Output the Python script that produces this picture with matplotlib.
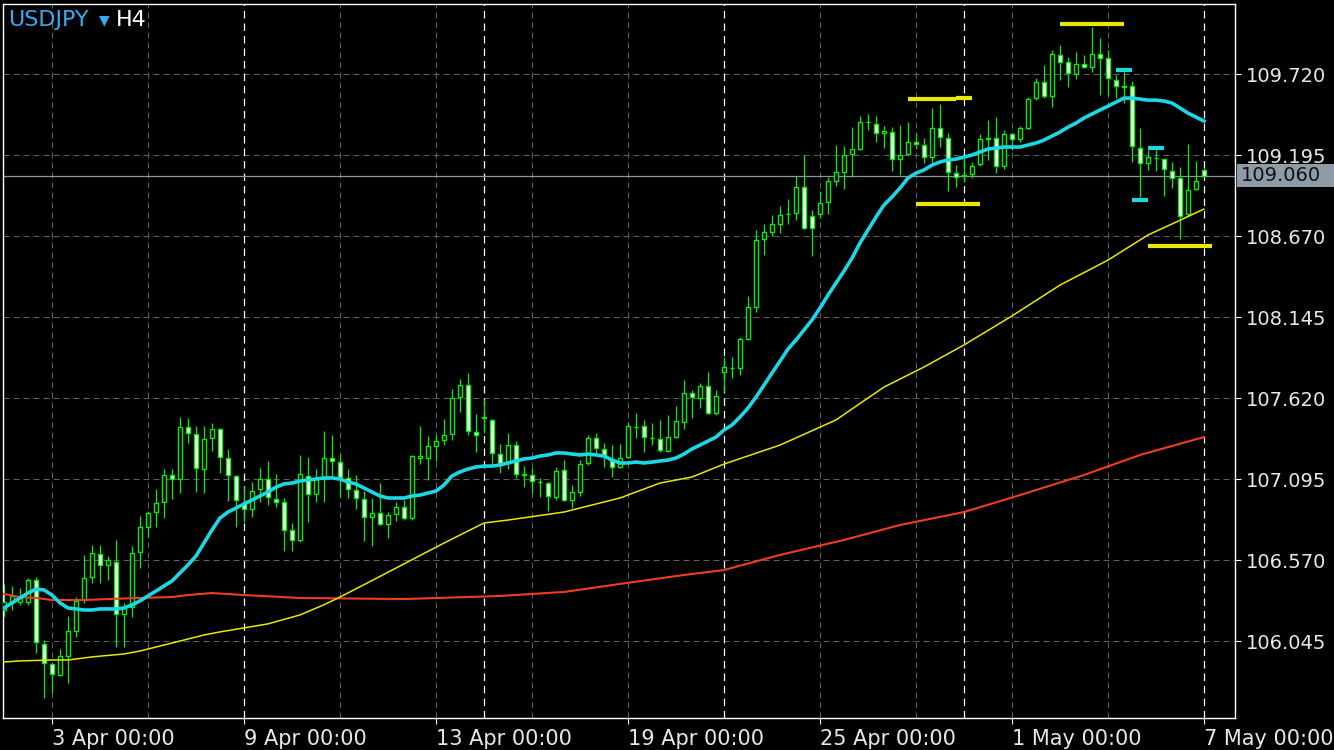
import matplotlib.pyplot as plt
from matplotlib.patches import Rectangle
from matplotlib.transforms import blended_transform_factory

# USDJPY H4, bar 0 = 2 Apr 00:00
opens = [106.246, 106.298, 106.298, 106.298, 106.440, 106.026, 105.896, 105.825, 105.948, 106.110,
         106.311, 106.460, 106.609, 106.538, 106.557, 106.220, 106.265, 106.622, 106.784, 106.881,
         106.946, 107.121, 107.095, 107.432, 107.387, 107.160, 107.361, 107.419, 107.231, 107.115,
         106.939, 106.900, 107.030, 107.095, 106.965, 106.946, 106.764, 106.700, 107.115, 106.998,
         107.102, 107.231, 107.205, 107.102, 107.024, 106.965, 106.849, 106.875, 106.803, 106.868,
         106.914, 106.842, 107.231, 107.231, 107.309, 107.348, 107.387, 107.626, 107.704, 107.400,
         107.490, 107.477, 107.257, 107.199, 107.315, 107.127, 107.121, 107.076, 107.069, 106.978,
         107.153, 106.959, 107.011, 107.199, 107.361, 107.290, 107.218, 107.173, 107.238, 107.432,
         107.439, 107.361, 107.354, 107.277, 107.367, 107.464, 107.652, 107.620, 107.698, 107.523,
         107.788, 107.814, 107.814, 108.002, 108.210, 108.651, 108.696, 108.748, 108.813, 108.819,
         108.988, 108.800, 108.813, 108.890, 109.027, 109.085, 109.201, 109.234, 109.409, 109.396,
         109.338, 109.344, 109.169, 109.201, 109.279, 109.260, 109.182, 109.370, 109.305, 109.078,
         109.065, 109.072, 109.137, 109.305, 109.305, 109.124, 109.331, 109.299, 109.370, 109.564,
         109.668, 109.577, 109.843, 109.798, 109.720, 109.785, 109.765, 109.850, 109.824, 109.681,
         109.642, 109.642, 109.240, 109.143, 109.176, 109.169, 109.091, 109.046, 108.813, 108.975,
         109.098]
highs = [106.414, 106.402, 106.389, 106.453, 106.460, 106.051, 105.902, 105.993, 106.207, 106.330,
         106.602, 106.667, 106.667, 106.596, 106.700, 106.291, 106.661, 106.855, 106.888, 107.030,
         107.160, 107.160, 107.497, 107.490, 107.439, 107.439, 107.458, 107.426, 107.290, 107.121,
         107.050, 107.076, 107.166, 107.212, 107.127, 106.972, 106.810, 107.251, 107.238, 107.160,
         107.406, 107.380, 107.257, 107.160, 107.121, 107.017, 106.972, 107.069, 106.881, 106.946,
         106.959, 107.251, 107.439, 107.374, 107.380, 107.484, 107.678, 107.743, 107.782, 107.516,
         107.614, 107.484, 107.322, 107.393, 107.341, 107.179, 107.166, 107.102, 107.076, 107.173,
         107.218, 107.056, 107.218, 107.380, 107.393, 107.328, 107.315, 107.322, 107.464, 107.523,
         107.477, 107.458, 107.477, 107.510, 107.568, 107.737, 107.672, 107.717, 107.788, 107.672,
         107.886, 107.886, 108.015, 108.281, 108.709, 108.748, 108.806, 108.864, 108.910, 109.059,
         109.195, 108.839, 108.962, 109.052, 109.260, 109.253, 109.376, 109.448, 109.461, 109.448,
         109.383, 109.376, 109.389, 109.409, 109.338, 109.305, 109.500, 109.526, 109.338, 109.130,
         109.176, 109.150, 109.331, 109.422, 109.441, 109.357, 109.338, 109.383, 109.571, 109.694,
         109.778, 109.876, 109.908, 109.830, 109.863, 109.843, 110.025, 109.953, 109.876, 109.714,
         109.733, 109.675, 109.370, 109.227, 109.227, 109.176, 109.150, 109.117, 109.266, 109.156,
         109.111]
lows = [106.201, 106.246, 106.278, 106.278, 105.967, 105.676, 105.708, 105.818, 105.773, 106.071,
        106.291, 106.421, 106.421, 106.440, 106.006, 106.006, 106.201, 106.518, 106.719, 106.784,
        106.842, 106.965, 107.004, 107.328, 107.011, 107.004, 107.277, 107.134, 106.952, 106.784,
        106.816, 106.849, 106.946, 106.927, 106.914, 106.628, 106.628, 106.687, 106.816, 106.946,
        106.946, 107.115, 106.978, 106.972, 106.900, 106.693, 106.661, 106.797, 106.713, 106.823,
        106.829, 106.829, 107.192, 107.089, 107.212, 107.315, 107.348, 107.529, 107.380, 107.270,
        107.393, 107.186, 107.134, 107.160, 107.102, 107.043, 107.004, 106.978, 106.888, 106.959,
        106.952, 106.907, 106.985, 107.186, 107.264, 107.173, 107.108, 107.166, 107.231, 107.361,
        107.270, 107.315, 107.270, 107.270, 107.361, 107.419, 107.490, 107.555, 107.516, 107.510,
        107.659, 107.750, 107.769, 107.996, 108.178, 108.547, 108.670, 108.689, 108.748, 108.774,
        108.715, 108.540, 108.787, 108.813, 108.994, 108.975, 109.052, 109.227, 109.357, 109.279,
        109.240, 109.091, 109.065, 109.195, 109.234, 109.143, 109.150, 109.247, 108.962, 108.988,
        109.020, 109.046, 109.124, 109.163, 109.078, 109.104, 109.227, 109.279, 109.364, 109.552,
        109.564, 109.506, 109.681, 109.636, 109.688, 109.759, 109.733, 109.584, 109.584, 109.564,
        109.532, 109.150, 108.923, 109.098, 109.091, 108.930, 108.981, 108.651, 108.800, 108.968,
        109.052]
closes = [106.298, 106.337, 106.330, 106.440, 106.039, 105.902, 105.831, 105.948, 106.110, 106.304,
          106.453, 106.615, 106.538, 106.570, 106.220, 106.259, 106.615, 106.784, 106.875, 106.939,
          107.121, 107.095, 107.432, 107.393, 107.166, 107.354, 107.419, 107.238, 107.121, 106.959,
          106.900, 107.017, 107.095, 106.978, 106.946, 106.764, 106.700, 107.127, 106.998, 107.102,
          107.231, 107.212, 107.108, 107.030, 106.972, 106.849, 106.875, 106.803, 106.862, 106.914,
          106.842, 107.244, 107.244, 107.309, 107.341, 107.380, 107.620, 107.704, 107.406, 107.380,
          107.497, 107.264, 107.199, 107.315, 107.127, 107.124, 107.082, 107.073, 106.985, 107.147,
          106.959, 107.011, 107.192, 107.361, 107.296, 107.251, 107.173, 107.231, 107.439, 107.429,
          107.367, 107.358, 107.283, 107.367, 107.471, 107.652, 107.626, 107.698, 107.523, 107.633,
          107.821, 107.817, 108.002, 108.210, 108.644, 108.696, 108.748, 108.806, 108.816, 108.988,
          108.722, 108.722, 108.884, 109.027, 109.085, 109.195, 109.234, 109.409, 109.406, 109.338,
          109.351, 109.169, 109.195, 109.279, 109.266, 109.182, 109.370, 109.312, 109.085, 109.052,
          109.062, 109.124, 109.299, 109.302, 109.124, 109.331, 109.299, 109.370, 109.558, 109.668,
          109.577, 109.850, 109.798, 109.726, 109.785, 109.765, 109.850, 109.824, 109.694, 109.642,
          109.639, 109.253, 109.143, 109.182, 109.179, 109.104, 109.046, 108.800, 108.968, 109.027,
          109.060]

# fast MA (cyan), one value per bar
ma_fast = [106.259, 106.292, 106.324, 106.356, 106.382, 106.376, 106.343, 106.292, 106.259, 106.253,
           106.246, 106.246, 106.253, 106.253, 106.253, 106.259, 106.279, 106.305, 106.337, 106.369,
           106.402, 106.434, 106.486, 106.538, 106.596, 106.680, 106.765, 106.842, 106.881, 106.907,
           106.933, 106.959, 106.985, 107.011, 107.043, 107.063, 107.069, 107.082, 107.089, 107.095,
           107.102, 107.102, 107.095, 107.076, 107.063, 107.037, 107.011, 106.985, 106.972, 106.972,
           106.972, 106.985, 106.991, 107.004, 107.017, 107.056, 107.115, 107.141, 107.160, 107.173,
           107.179, 107.179, 107.186, 107.199, 107.212, 107.225, 107.231, 107.244, 107.251, 107.264,
           107.264, 107.257, 107.251, 107.257, 107.251, 107.244, 107.218, 107.199, 107.199, 107.205,
           107.199, 107.205, 107.212, 107.218, 107.231, 107.257, 107.290, 107.315, 107.341, 107.367,
           107.413, 107.445, 107.497, 107.555, 107.626, 107.704, 107.782, 107.860, 107.937, 107.996,
           108.061, 108.126, 108.203, 108.287, 108.365, 108.443, 108.527, 108.625, 108.709, 108.793,
           108.871, 108.923, 108.981, 109.046, 109.078, 109.098, 109.130, 109.150, 109.163, 109.169,
           109.182, 109.195, 109.215, 109.234, 109.240, 109.247, 109.247, 109.247, 109.260, 109.273,
           109.292, 109.318, 109.344, 109.376, 109.402, 109.435, 109.461, 109.487, 109.512, 109.538,
           109.564, 109.564, 109.558, 109.551, 109.551, 109.545, 109.532, 109.500, 109.467, 109.441,
           109.415]

# slower MAs (yellow, red), read at selected bars
ma_mid_x = [0, 2, 6, 8, 11, 15, 17, 19, 21, 23, 25, 27, 30, 33, 37, 40, 42, 45, 50, 55,
            60, 63, 70, 77, 82, 86, 90, 97, 104, 110, 115, 120, 126, 132, 138, 143, 146, 150]
ma_mid = [105.909, 105.916, 105.922, 105.922, 105.942, 105.961, 105.980, 106.006, 106.032, 106.058,
          106.084, 106.104, 106.130, 106.156, 106.214, 106.280, 106.330, 106.410, 106.545, 106.680,
          106.810, 106.829, 106.881, 106.972, 107.069, 107.108, 107.192, 107.315, 107.478, 107.691,
          107.821, 107.964, 108.152, 108.352, 108.514, 108.677, 108.748, 108.845]
ma_slow_x = [0, 2, 4, 6, 10, 13, 17, 21, 23, 26, 30, 37, 50, 62, 70, 77, 85, 90, 97, 105,
             112, 120, 127, 135, 142, 150]
ma_slow = [106.350, 106.330, 106.324, 106.311, 106.311, 106.317, 106.324, 106.330, 106.343, 106.356,
           106.343, 106.324, 106.317, 106.337, 106.363, 106.415, 106.473, 106.505, 106.603, 106.700,
           106.797, 106.881, 106.991, 107.121, 107.251, 107.367]

# level marks: start bar, end bar, price
yellow_start = [113, 115, 119, 114, 132, 143]
yellow_end = [115, 119, 121, 122, 140, 151]
yellow_price = [109.555, 109.561, 109.566, 108.877, 110.044, 108.605]
cyan_start = [139, 141, 143]
cyan_end = [141, 143, 145]
cyan_price = [109.746, 108.903, 109.240]

price_ticks = [106.045, 106.570, 107.095, 107.620, 108.145, 108.670, 109.195, 109.720]
date_pos = [6, 30, 54, 78, 102, 126, 150]
date_labels = ["3 Apr 00:00", "9 Apr 00:00", "13 Apr 00:00", "19 Apr 00:00",
               "25 Apr 00:00", "1 May 00:00", "7 May 00:00"]
grid_pos = [6, 18, 42, 54, 66, 78, 102, 114, 126, 138]
week_pos = [30, 60, 90, 120, 150]

GREEN = "#00f000"
W, H = 1334, 750
fig = plt.figure(figsize=(W / 100, H / 100), dpi=100, facecolor="black")
ax = fig.add_axes([3 / W, 1 - 718 / H, 1232 / W, 714 / H])
ax.set_facecolor("black")
ax.set_xlim(-0.125, 153.875)
ax.set_ylim(105.546, 110.174)

for p in price_ticks:
    ax.axhline(p, color="#606060", lw=0.72, ls=(0, (6, 4)), zorder=0)
for g in grid_pos:
    ax.axvline(g, color="#606060", lw=0.72, ls=(0, (6, 4)), zorder=0)
for g in week_pos:
    ax.axvline(g, color="white", lw=0.9, ls=(0, (6, 4)), zorder=0.5)

ax.axhline(closes[-1], color="#8c96a0", lw=0.9, zorder=1)

xs = list(range(len(closes)))
ax.vlines(xs, lows, highs, color=GREEN, lw=0.9, zorder=2)
bottoms = [min(o, c) for o, c in zip(opens, closes)]
heights = [max(abs(c - o), 0.002) for o, c in zip(opens, closes)]
faces = ["black" if c >= o else "white" for o, c in zip(opens, closes)]
ax.bar(xs, heights, bottom=bottoms, width=0.6, color=faces, edgecolor=GREEN,
       linewidth=1.0, zorder=3)

ax.plot(ma_slow_x, ma_slow, color="#f23c1e", lw=1.5, zorder=4)
ax.plot(ma_mid_x, ma_mid, color="#e8e800", lw=1.1, zorder=4)
ax.plot(xs, ma_fast, color="#1ad8e6", lw=2.6, zorder=5)

for s, e, p in zip(yellow_start, yellow_end, yellow_price):
    ax.plot([s, e], [p, p], color="#e8e800", lw=3, solid_capstyle="butt", zorder=6)
for s, e, p in zip(cyan_start, cyan_end, cyan_price):
    ax.plot([s, e], [p, p], color="#1ad8e6", lw=3, solid_capstyle="butt", zorder=6)

for sp in ax.spines.values():
    sp.set_color("white")
    sp.set_linewidth(1)

ax.yaxis.tick_right()
ax.set_yticks(price_ticks)
ax.set_yticklabels([f"{p:.3f}" for p in price_ticks])
ax.set_xticks(date_pos)
ax.set_xticklabels(date_labels, ha="left")
ax.tick_params(axis="both", colors="white", labelcolor="#e8e8e8", labelsize=14,
               length=4, width=0.8, direction="out")
ax.tick_params(axis="y", pad=4)
ax.tick_params(axis="x", pad=4, labelsize=15)

# current price tag
tr = blended_transform_factory(fig.transFigure, ax.transData)
fig.add_artist(Rectangle((1237 / W, closes[-1] - 0.075), 97 / W, 0.150,
                         transform=tr, facecolor="#8e9aa6", edgecolor="none", zorder=7))
fig.text(1241 / W, closes[-1], f"{closes[-1]:.3f}", transform=tr, color="#101010",
         fontsize=14, va="center", ha="left", zorder=8)

fig.text(8 / W, 1 - 20 / H, "USDJPY", color="#3aaaf0", fontsize=16, va="center")
fig.text(99 / W, 1 - 19 / H, "\u25bc", color="#3aaaf0", fontsize=10, va="center_baseline")
fig.text(116 / W, 1 - 20 / H, "H4", color="white", fontsize=16, va="center")

fig.savefig("out.png", dpi=100, facecolor="black")
